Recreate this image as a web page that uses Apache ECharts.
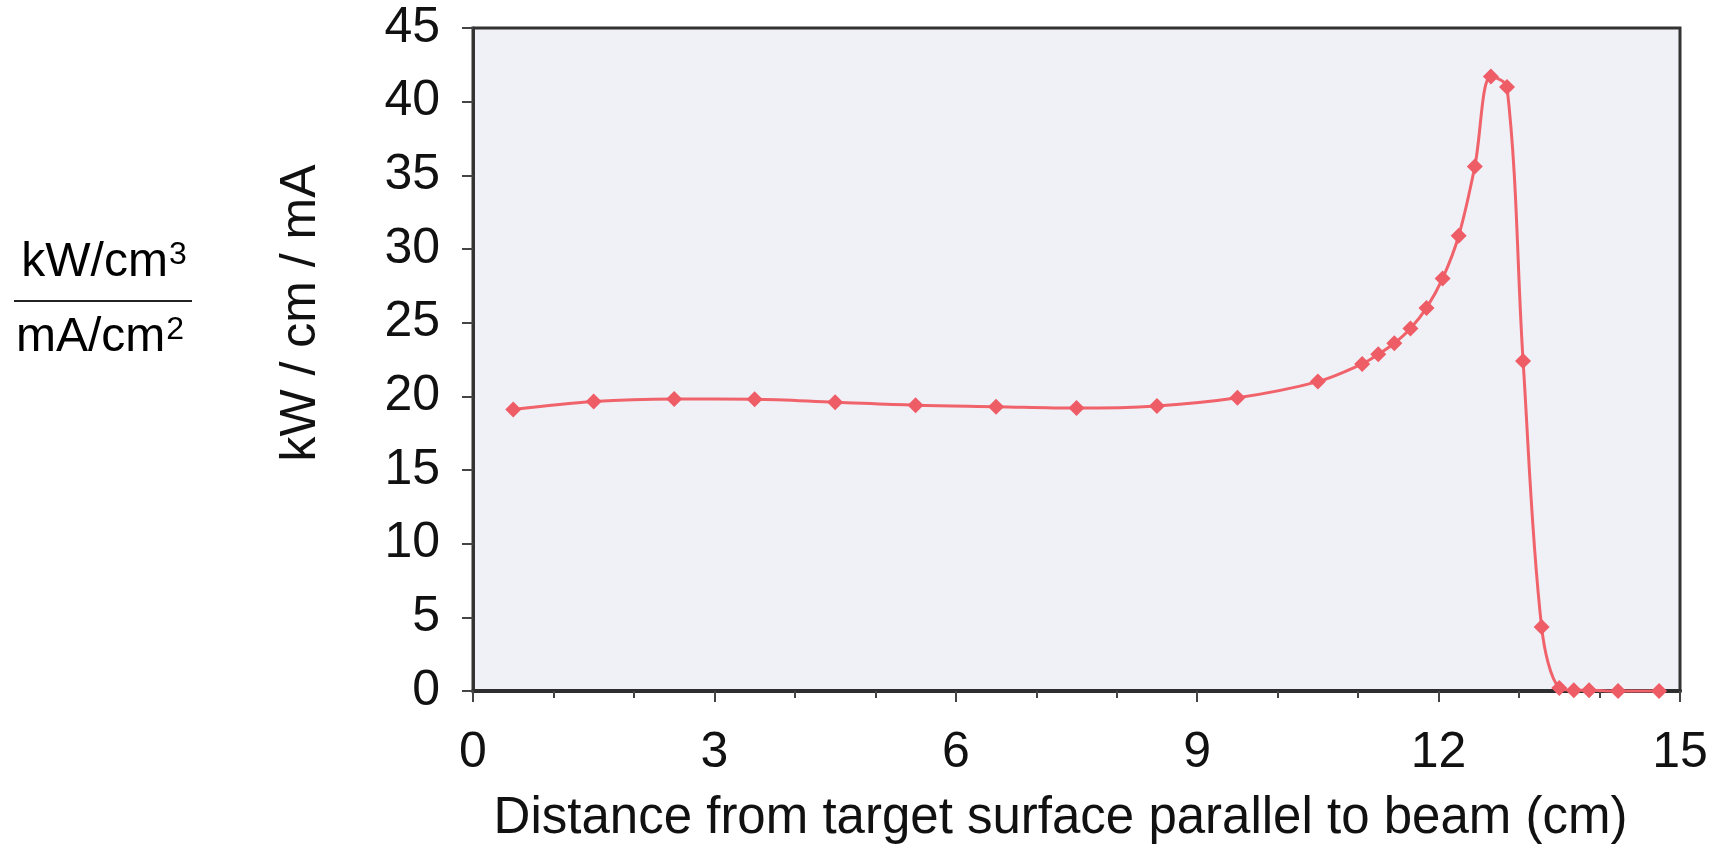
<!DOCTYPE html>
<html>
<head>
<meta charset="utf-8">
<script src="https://cdn.jsdelivr.net/npm/echarts@6/dist/echarts.min.js"></script>
<style>
html,body{margin:0;padding:0;background:#fff;}
#chart{width:1724px;height:849px;}
</style>
</head>
<body>
<div id="chart"></div>
<script>
// Data
var distance = [0.5, 1.5, 2.5, 3.5, 4.5, 5.5, 6.5, 7.5, 8.5, 9.5, 10.5, 11.05, 11.25, 11.45, 11.65, 11.85, 12.05, 12.25, 12.45, 12.65, 12.85, 13.05, 13.28, 13.5, 13.68, 13.87, 14.23, 14.74];
var power = [19.1, 19.65, 19.82, 19.8, 19.6, 19.4, 19.3, 19.2, 19.35, 19.9, 21.0, 22.2, 22.85, 23.6, 24.6, 26.0, 28.0, 30.9, 35.6, 41.7, 41.0, 22.4, 4.35, 0.2, 0.05, 0.05, 0, 0];
var xTicks = [0, 3, 6, 9, 12, 15];
var yTicks = [0, 5, 10, 15, 20, 25, 30, 35, 40, 45];
var xTitle = 'Distance from target surface parallel to beam (cm)';
var yTitle = 'kW / cm / mA';
var fracTopBase = 'kW/cm', fracTopSup = '3';
var fracBottomBase = 'mA/cm', fracBottomSup = '2';

var points = distance.map(function (d, i) { return [d, power[i]]; });
var FONT = 'Liberation Sans, Arial, Helvetica, sans-serif';

var fracRich = {
  b: { fontSize: 48, fontFamily: FONT, color: '#111', lineHeight: 50, verticalAlign: 'bottom' },
  s: { fontSize: 32, fontFamily: FONT, color: '#111', lineHeight: 50, verticalAlign: 'top', padding: [2, 0, 0, 1] }
};

var chart = echarts.init(document.getElementById('chart'));
chart.setOption({
  animation: false,
  backgroundColor: '#ffffff',
  grid: {
    left: 473, right: 44, top: 28, bottom: 156,
    show: true,
    backgroundColor: '#f0f0f7',
    borderColor: '#333',
    borderWidth: 3
  },
  xAxis: {
    type: 'value',
    min: xTicks[0], max: xTicks[xTicks.length - 1], interval: 3,
    name: xTitle,
    nameLocation: 'middle',
    nameGap: 102,
    nameTextStyle: { fontSize: 51, fontFamily: FONT, color: '#111', padding: [0, 32, 0, 0] },
    axisLine: { show: true, lineStyle: { color: '#2e2e2e', width: 4 } },
    axisTick: { show: true, inside: false, length: 11, lineStyle: { color: '#444', width: 2 } },
    minorTick: { show: true, splitNumber: 3, length: 7, lineStyle: { color: '#444', width: 2 } },
    splitLine: { show: false },
    axisLabel: { fontSize: 50, fontFamily: FONT, color: '#111', margin: 37 }
  },
  yAxis: {
    type: 'value',
    min: yTicks[0], max: yTicks[yTicks.length - 1], interval: 5,
    axisLine: { show: true, lineStyle: { color: '#333', width: 3 } },
    axisTick: { show: true, inside: false, length: 11, lineStyle: { color: '#444', width: 2 } },
    splitLine: { show: false },
    axisLabel: { fontSize: 50, fontFamily: FONT, color: '#111', margin: 33 }
  },
  graphic: [
    {
      type: 'text', x: 301, y: 313, rotation: Math.PI / 2,
      style: { text: yTitle, fontSize: 50, fontFamily: FONT, fill: '#111',
        textAlign: 'center', textVerticalAlign: 'middle', align: 'center', verticalAlign: 'middle' }
    },
    {
      type: 'text', x: 104, y: 262,
      style: { text: '{b|' + fracTopBase + '}{s|' + fracTopSup + '}', rich: fracRich,
        textAlign: 'center', textVerticalAlign: 'middle', align: 'center', verticalAlign: 'middle' }
    },
    {
      type: 'line', shape: { x1: 14, y1: 301, x2: 192, y2: 301 },
      style: { stroke: '#222', lineWidth: 2 }
    },
    {
      type: 'text', x: 100, y: 337,
      style: { text: '{b|' + fracBottomBase + '}{s|' + fracBottomSup + '}', rich: fracRich,
        textAlign: 'center', textVerticalAlign: 'middle', align: 'center', verticalAlign: 'middle' }
    }
  ],
  series: [{
    type: 'line',
    data: points,
    smooth: 0.35,
    symbol: 'diamond',
    symbolSize: 16,
    itemStyle: { color: '#ee5c66' },
    lineStyle: { color: '#f0636b', width: 3 },
    clip: false
  }]
});
</script>
</body>
</html>
